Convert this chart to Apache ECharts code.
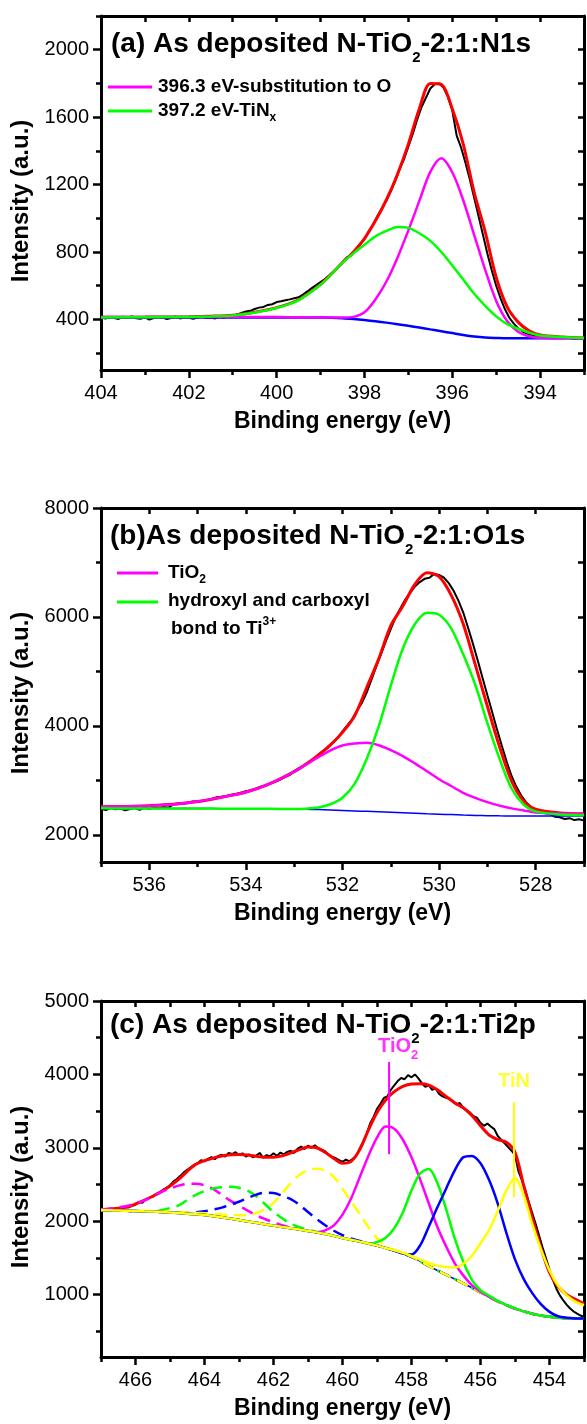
<!DOCTYPE html>
<html><head><meta charset="utf-8">
<script src="https://cdn.jsdelivr.net/npm/echarts@6/dist/echarts.min.js"></script>
<style>html,body{margin:0;padding:0;background:#fff}#c{width:587px;height:1424px}</style>
</head><body><div id="c"></div>
<script>
const FONT = "'Liberation Sans', Arial, Helvetica, sans-serif";

// ---------------- Panel (a) N1s ----------------
const aE   = [404,403,402,401.5,401,400.5,400,399.5,399,398.75,398.5,398.25,398,397.75,397.5,397.25,397,396.75,396.5,396.25,396,395.75,395.5,395.25,395,394.75,394.5,394.25,394,393.5,393];
const aBg  = [412,412,412,412,412,412,412,412,411,410,407,402,396,389,381,372,362,352,341,330,319,308,299,293,290,288,288,288,288,288,288];
const aSub = [414,414,414,414,414,414,414,413,412,411,411,415,442,518,625,765,928,1103,1275,1356,1273,1107,900,694,510,390,327,300,291,288,288];
const aTiN = [412,413,415,418,423,441,468,515,606,669,737,792,843,893,925,948,943,911,866,800,720,637,552,480,418,372,345,321,305,296,290];
const aEnv = [413,414,416,419,425,443,470,517,608,670,738,800,880,985,1110,1260,1440,1650,1800,1795,1650,1440,1153,920,650,474,384,333,308,296,290];
const aRawStart = 404.0, aRawStep = -0.1;
const aRaw = [412,405,414,409,403,416,410,418,407,404,412,399,408,415,411,402,409,417,406,413,410,404,411,419,408,412,406,414,409,417,413,
  430,438,447,451,462,470,474,486,490,503,508,514,519,526,531,548,566,586,604,622,640,662,685,712,738,768,780,815,848,875,
  925,965,1015,1060,1105,1160,1220,1290,1350,1425,1500,1585,1660,1715,1770,1795,
  1800,1775,1720,1640,1490,1420,1330,1230,1120,1010,900,790,690,600,525,460,410,375,348,328,316,308,302,299,296,293,297,291,289,294,288,286,290,287];
const aXMajor = [394,396,398,400,402,404], aXMinor = [393,395,397,399,401,403];
const aYMajor = [400,800,1200,1600,2000], aYMinor = [200,600,1000,1400,1800,2200];

// ---------------- Panel (b) O1s ----------------
const bE    = [537,536.5,536,535.5,535,534.5,534,533.5,533,532.75,532.5,532.25,532,531.75,531.5,531.25,531,530.75,530.5,530.25,530,529.75,529.5,529.25,529,528.75,528.5,528.25,528,527.5,527];
const bBg   = [2485,2484,2483,2482,2481,2480,2478,2476,2472,2468,2462,2455,2447,2438,2430,2422,2413,2404,2395,2386,2378,2370,2362,2356,2351,2347,2345,2344,2343,2343,2343];
const bTiO2 = [2514,2520,2535,2558,2610,2690,2780,2940,3157,3290,3425,3550,3640,3675,3689,3645,3555,3445,3310,3165,3020,2895,2770,2676,2600,2535,2485,2447,2410,2390,2379];
const bOH   = [2485,2484,2483,2482,2481,2480,2478,2476,2474,2480,2500,2560,2680,2935,3390,3990,4740,5420,5870,6075,6040,5790,5310,4750,4050,3400,2850,2555,2430,2370,2360];
const bEnv  = [2514,2520,2535,2560,2610,2690,2785,2940,3160,3300,3460,3650,3880,4180,4700,5230,5840,6200,6600,6810,6740,6400,5870,5120,4360,3620,2990,2620,2470,2400,2385];
const bRawStart = 537.0, bRawStep = -0.1;
const bRaw = [2478,2455,2492,2466,2483,2450,2471,2489,2460,2495,2476,2502,2488,2512,2498,
  2560,2575,2570,2590,2612,2608,2625,2640,2660,2688,2700,2712,2735,2748,2770,2800,2812,2845,2880,2895,2945,2972,3010,3060,3095,3170,
  3225,3270,3330,3390,3470,3540,3600,3690,3780,3900,4010,4120,4280,4420,4610,4850,5090,5320,5560,5780,
  5990,6160,6320,6440,6560,6640,6700,6720,6790,6770,6720,6620,6480,6300,6080,5800,5510,5200,4880,4560,4250,3930,3630,3340,3080,2880,2720,2600,2510,2460,2420,2395,2380,2330,2320,2290,2305,2270,2285,2260];
const bXMajor = [528,530,532,534,536], bXMinor = [527,529,531,533,535,537];
const bYMajor = [2000,4000,6000,8000], bYMinor = [3000,5000,7000];

// ---------------- Panel (c) Ti2p ----------------
const cE = [467,466.75,466.5,466.25,466,465.75,465.5,465.25,465,464.75,464.5,464.25,464,463.75,463.5,463.25,463,462.75,462.5,462.25,462,461.75,461.5,461.25,461,460.75,460.5,460.25,460,459.75,459.5,459.25,459,458.75,458.5,458.25,458,457.75,457.5,457.25,457,456.75,456.5,456.25,456,455.75,455.5,455.25,455,454.75,454.5,454.25,454,453.75,453.5,453.25,453];
const cBg = [2150,2148,2145,2142,2139,2135,2131,2126,2120,2112,2103,2094,2085,2070,2053,2035,2016,1997,1978,1959,1940,1922,1905,1887,1868,1848,1825,1800,1772,1748,1722,1697,1668,1635,1600,1563,1515,1455,1390,1330,1272,1213,1153,1093,1030,968,908,856,810,772,740,715,697,685,678,675,673];
const cTiO2a = [2150,2148,2145,2142,2139,2135,2131,2126,2120,2112,2103,2094,2085,2070,2053,2035,2016,1997,1978,1959,1940,1922,1905,1887,1868,1850,1875,1944,2090,2310,2600,2890,3140,3290,3260,3110,2870,2570,2245,1920,1660,1430,1262,1130,1040,972,910,857,810,772,740,715,697,685,678,675,673];
const cTiO2b = [2158,2170,2188,2208,2240,2280,2335,2400,2445,2485,2508,2510,2490,2440,2360,2280,2210,2145,2080,2030,1985,1945,1912,1890,1870,1848,1825,1800,1772,1748,1722,1697,1668,1635,1600,1563,1515,1455,1390,1330,1272,1213,1153,1093,1030,968,908,856,810,772,740,715,697,685,678,675,673];
const cGa = [2150,2148,2145,2142,2139,2135,2131,2126,2120,2112,2103,2094,2085,2070,2053,2035,2016,1997,1978,1959,1940,1922,1905,1887,1868,1848,1825,1800,1772,1748,1722,1697,1715,1775,1905,2120,2420,2650,2710,2520,2170,1770,1450,1200,1060,985,915,860,812,772,740,715,697,685,678,675,673];
const cGb = [2150,2148,2145,2142,2139,2135,2131,2150,2180,2215,2290,2360,2410,2445,2462,2468,2455,2415,2340,2235,2125,2040,1965,1920,1885,1855,1825,1800,1772,1748,1722,1697,1668,1635,1600,1563,1515,1455,1390,1330,1272,1213,1153,1093,1030,968,908,856,810,772,740,715,697,685,678,675,673];
const cBa = [2150,2148,2145,2142,2139,2135,2131,2126,2120,2112,2103,2094,2085,2070,2053,2035,2016,1997,1978,1959,1940,1922,1905,1887,1868,1848,1825,1800,1772,1748,1722,1697,1668,1635,1600,1560,1545,1670,1925,2190,2440,2690,2870,2890,2790,2560,2240,1840,1480,1215,1020,870,765,705,685,676,673];
const cBb = [2150,2148,2145,2142,2139,2135,2131,2126,2122,2117,2115,2121,2135,2158,2185,2225,2265,2316,2362,2388,2385,2345,2300,2225,2125,2030,1945,1870,1810,1765,1730,1702,1670,1635,1600,1563,1515,1455,1390,1330,1272,1213,1153,1093,1030,968,908,856,810,772,740,715,697,685,678,675,673];
const cYa = [2150,2148,2145,2142,2139,2135,2131,2126,2120,2112,2103,2094,2085,2070,2053,2035,2016,1997,1978,1959,1940,1922,1905,1887,1868,1848,1825,1800,1772,1748,1722,1697,1668,1635,1605,1570,1525,1475,1430,1395,1375,1368,1420,1530,1700,1880,2140,2420,2590,2353,1960,1620,1330,1120,990,905,855];
const cYb = [2152,2150,2148,2146,2144,2141,2138,2134,2130,2125,2120,2113,2108,2100,2092,2085,2080,2085,2110,2165,2250,2380,2520,2630,2695,2716,2690,2603,2440,2270,2095,1920,1770,1660,1610,1570,1520,1458,1390,1330,1272,1213,1153,1093,1030,968,908,856,810,772,740,715,697,685,678,675,673];
const cEnv = [2158,2165,2178,2194,2235,2285,2340,2403,2480,2570,2680,2775,2825,2860,2888,2905,2908,2902,2885,2873,2872,2890,2930,2975,3010,3000,2935,2855,2790,2815,2975,3240,3480,3650,3765,3838,3868,3874,3855,3790,3700,3615,3545,3440,3300,3175,3112,3075,2940,2490,2050,1640,1300,1110,1000,935,877];
const cRawStart = 467.0, cRawStep = -0.1;
const cRaw = [2150,2160,2148,2171,2165,2180,2168,2195,2188,2210,2225,
  2265,2250,2300,2318,2335,2372,2390,2430,2455,2490,
  2540,2575,2618,2665,2700,2735,2768,2790,2830,2815,
  2850,2872,2845,2890,2905,2880,2930,2915,2940,2900,
  2925,2880,2910,2870,2895,2930,2865,2900,2885,2925,
  2890,2935,2910,2945,2960,2930,2990,3015,2985,3030,
  3000,3035,2990,2975,2950,2905,2880,2860,2830,2810,
  2840,2815,2850,2890,2990,3080,3190,3330,3420,3530,
  3600,3680,3700,3790,3850,3910,3950,3935,3990,3960,
  4000,3945,3880,3830,3855,3790,3810,3735,3700,3680,
  3670,3630,3590,3610,3540,3510,3480,3430,3410,3340,
  3300,3330,3290,3255,3160,3110,3060,3010,2960,2900,
  2680,2560,2420,2260,2110,1960,1800,1640,1490,1340,
  1200,1080,990,920,860,810,770,740,715,695];
const cXMajor = [454,456,458,460,462,464,466], cXMinor = [453,455,457,459,461,463,465,467];
const cYMajor = [1000,2000,3000,4000,5000], cYMinor = [500,1500,2500,3500,4500];
// annotation markers (energy, intensity)
const cTiO2Mark = [[458.65, 2913],[458.65, 4168]];
const cTiNMark  = [[455.03, 2326],[455.03, 3622]];
const cTiO2LabelAt = [458.97, 4585];
const cTiNLabelAt  = [455.49, 4112];

// ---------------- helpers ----------------
function energyAxis(start, step, n){ const o=[]; for(let i=0;i<n;i++) o.push(+(start+step*i).toFixed(2)); return o; }
function zip(xs, ys){ return xs.map((x,i)=>[x, ys[i]]); }
const BLACK='#000';
function xAxesFor(g, min, max, majors, minors){
  const base={gridIndex:g,type:'value',min,max,inverse:true,splitLine:{show:false}};
  return [
    Object.assign({},base,{position:'bottom',
      axisLine:{show:true,onZero:false,lineStyle:{color:BLACK,width:3}},
      axisTick:{show:true,inside:false,length:8,customValues:majors,lineStyle:{color:BLACK,width:2.5}},
      axisLabel:{show:true,customValues:majors,margin:13,color:BLACK,fontSize:20,fontFamily:FONT,lineHeight:20,formatter:v=>String(v)},
      name:'Binding energy (eV)',nameLocation:'middle',nameGap:40,
      nameTextStyle:{color:BLACK,fontSize:23,fontWeight:'bold',fontFamily:FONT,lineHeight:23}}),
    Object.assign({},base,{position:'bottom',axisLine:{show:false},
      axisTick:{show:true,inside:false,length:5,customValues:minors,lineStyle:{color:BLACK,width:2.5}},axisLabel:{show:false}}),
    Object.assign({},base,{position:'top',axisLine:{show:true,onZero:false,lineStyle:{color:BLACK,width:3}},
      axisTick:{show:true,inside:true,length:6,customValues:majors.concat(minors),lineStyle:{color:BLACK,width:2.5}},axisLabel:{show:false}})
  ];
}
function yAxesFor(g, min, max, majors, minors){
  const base={gridIndex:g,type:'value',min,max,splitLine:{show:false}};
  return [
    Object.assign({},base,{position:'left',
      axisLine:{show:true,onZero:false,lineStyle:{color:BLACK,width:3}},
      axisTick:{show:true,inside:false,length:8,customValues:majors,lineStyle:{color:BLACK,width:2.5}},
      axisLabel:{show:true,customValues:majors,margin:12,color:BLACK,fontSize:20,fontFamily:FONT,formatter:v=>String(v)},
      name:'Intensity (a.u.)',nameLocation:'middle',nameGap:62,
      nameTextStyle:{color:BLACK,fontSize:24,fontWeight:'bold',fontFamily:FONT,lineHeight:24,padding:[0,16,0,0]}}),
    Object.assign({},base,{position:'left',axisLine:{show:false},
      axisTick:{show:true,inside:false,length:5,customValues:minors,lineStyle:{color:BLACK,width:2.5}},axisLabel:{show:false}}),
    Object.assign({},base,{position:'right',axisLine:{show:true,onZero:false,lineStyle:{color:BLACK,width:3}},
      axisTick:{show:true,inside:true,length:6,customValues:majors.concat(minors),lineStyle:{color:BLACK,width:2.5}},axisLabel:{show:false}})
  ];
}
function line(ax, xs, ys, color, width, extra){
  return Object.assign({type:'line',xAxisIndex:ax,yAxisIndex:ax,data:zip(xs,ys),showSymbol:false,symbol:'none',
    smooth:0.3,silent:true,lineStyle:{color,width},itemStyle:{color}}, extra||{});
}
const DASH={type:[12,7]};
const MAG='#FF00FF', GRN='#00FF00', BLU='#0000FF', RED='#FF0000', YEL='#FFFF00';

const aRawE = energyAxis(aRawStart, aRawStep, aRaw.length);
const bRawE = energyAxis(bRawStart, bRawStep, bRaw.length);
const cRawE = energyAxis(cRawStart, cRawStep, cRaw.length);

const TR = {
  t:{fontSize:28,fontWeight:'bold',fontFamily:FONT,color:BLACK,lineHeight:42},
  s:{fontSize:15,fontWeight:'bold',fontFamily:FONT,color:BLACK,lineHeight:12,verticalAlign:'bottom'}
};
const LT = {fontSize:19,fontWeight:'bold',fontFamily:FONT,fill:BLACK,lineHeight:26};
const LS = {fontSize:12,fontWeight:'bold',fontFamily:FONT,fill:BLACK,lineHeight:6,verticalAlign:'bottom'};
const LP = {fontSize:12,fontWeight:'bold',fontFamily:FONT,fill:BLACK,lineHeight:13,verticalAlign:'top'};

const series = [
  // (a)
  line(0, aRawE, aRaw, BLACK, 2, {smooth:false}),
  line(0, aE, aEnv, RED, 3),
  line(0, aE, aBg, BLU, 2.5),
  line(0, aE, aSub, MAG, 2.5),
  line(0, aE, aTiN, GRN, 2.5),
  // (b)
  line(3, bRawE, bRaw, BLACK, 2, {smooth:false}),
  line(3, bE, bEnv, RED, 3),
  line(3, bE, bBg, BLU, 1.5),
  line(3, bE, bTiO2, MAG, 2.5),
  line(3, bE, bOH, GRN, 2.5),
  // (c)
  line(6, cRawE, cRaw, BLACK, 2, {smooth:false}),
  line(6, cE, cEnv, RED, 3),
  line(6, cE, cBg, BLU, 1.5),
  line(6, cE, cTiO2b, MAG, 2.5, {lineStyle:Object.assign({color:MAG,width:2.5},DASH)}),
  line(6, cE, cGb, GRN, 2.5, {lineStyle:Object.assign({color:GRN,width:2.5},DASH)}),
  line(6, cE, cBb, BLU, 2.5, {lineStyle:Object.assign({color:BLU,width:2.5},DASH)}),
  line(6, cE, cYb, YEL, 2.5, {lineStyle:Object.assign({color:YEL,width:2.5},DASH)}),
  line(6, cE, cTiO2a, MAG, 2.5),
  line(6, cE, cGa, GRN, 2.5),
  line(6, cE, cBa, BLU, 2.5),
  line(6, cE, cYa, YEL, 2.5),
  {type:'line',xAxisIndex:6,yAxisIndex:6,data:cTiO2Mark,showSymbol:false,symbol:'none',silent:true,lineStyle:{color:MAG,width:2}},
  {type:'line',xAxisIndex:6,yAxisIndex:6,data:cTiNMark,showSymbol:false,symbol:'none',silent:true,lineStyle:{color:YEL,width:2}},
  {type:'scatter',xAxisIndex:6,yAxisIndex:6,symbolSize:1,itemStyle:{color:'rgba(0,0,0,0)'},silent:true,z:20,
    labelLayout:{hideOverlap:false},
    data:[
      {value:cTiO2LabelAt,label:{show:true,position:'inside',align:'left',verticalAlign:'top',
        formatter:'{m|TiO}{ms|2}',
        rich:{m:{fontSize:20,fontWeight:'bold',fontFamily:FONT,color:MAG,lineHeight:30},
              ms:{fontSize:13,fontWeight:'bold',fontFamily:FONT,color:MAG,lineHeight:8,verticalAlign:'bottom'}}}},
      {value:cTiNLabelAt,label:{show:true,position:'inside',align:'left',verticalAlign:'top',
        formatter:'{y|TiN}',
        rich:{y:{fontSize:20,fontWeight:'bold',fontFamily:FONT,color:YEL,lineHeight:30}}}}
    ]}
];

const option = {
  animation:false,
  backgroundColor:'#fff',
  title:[
    {left:111,top:23,padding:0,text:'{t|(a) As deposited N-TiO}{s|2}{t|-2:1:N1s}',textStyle:{rich:TR}},
    {left:110,top:515,padding:0,text:'{t|(b)As deposited N-TiO}{s|2}{t|-2:1:O1s}',textStyle:{rich:TR}},
    {left:110,top:1004,padding:0,text:'{t|(c) As deposited N-TiO}{s|2}{t|-2:1:Ti2p}',textStyle:{rich:TR}}
  ],
  grid:[
    {left:101,top:16,width:483,height:354},
    {left:101,top:508,width:483,height:354},
    {left:101,top:1001,width:483,height:356}
  ],
  xAxis:[].concat(
    xAxesFor(0,393,404,aXMajor,aXMinor),
    xAxesFor(1,527,537,bXMajor,bXMinor),
    xAxesFor(2,453,467,cXMajor,cXMinor)),
  yAxis:[].concat(
    yAxesFor(0,100,2200,aYMajor,aYMinor),
    yAxesFor(1,1500,8000,bYMajor,bYMinor),
    yAxesFor(2,150,5000,cYMajor,cYMinor)),
  graphic:[
    {type:'line',shape:{x1:108,y1:87,x2:152,y2:87},style:{stroke:MAG,lineWidth:3},z:10},
    {type:'text',x:158,y:74,style:{text:'{t|396.3 eV-substitution to O}',rich:{t:LT},verticalAlign:'top'},z:10},
    {type:'line',shape:{x1:108,y1:111,x2:152,y2:111},style:{stroke:GRN,lineWidth:3},z:10},
    {type:'text',x:158,y:98,style:{text:'{t|397.2 eV-TiN}{s|x}',rich:{t:LT,s:LS},verticalAlign:'top'},z:10},
    {type:'line',shape:{x1:117,y1:573,x2:158,y2:573},style:{stroke:MAG,lineWidth:3},z:10},
    {type:'text',x:168,y:560,style:{text:'{t|TiO}{s|2}',rich:{t:LT,s:LS},verticalAlign:'top'},z:10},
    {type:'line',shape:{x1:117,y1:602,x2:158,y2:602},style:{stroke:GRN,lineWidth:3},z:10},
    {type:'text',x:168,y:588,style:{text:'{t|hydroxyl and carboxyl}',rich:{t:LT},verticalAlign:'top'},z:10},
    {type:'text',x:171,y:616,style:{text:'{t|bond to Ti}{p|3+}',rich:{t:LT,p:LP},verticalAlign:'top'},z:10}
  ],
  series
};
const chart = echarts.init(document.getElementById('c'), null, {renderer:'canvas', width:587, height:1424});
chart.setOption(option);
</script></body></html>
